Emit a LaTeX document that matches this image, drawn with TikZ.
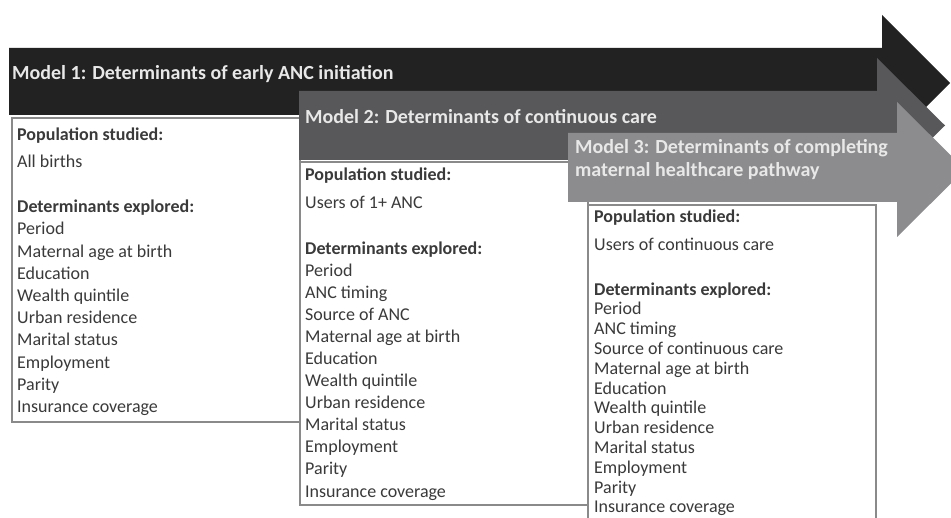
\documentclass[tikz,border=0pt]{standalone}
\usepackage{fontspec}
\setmainfont{Carlito}
\definecolor{barA}{HTML}{222222}
\definecolor{barB}{HTML}{58585A}
\definecolor{barC}{HTML}{8C8C8E}
\definecolor{barfg}{HTML}{E8E8E8}
\definecolor{boxgray}{HTML}{8A8A8A}
\definecolor{bodyfg}{HTML}{3A3A3A}
\tikzset{
  bartext/.style={anchor=base west, inner sep=0pt, text=barfg, font=\fontsize{20}{23}\selectfont\bfseries},
  boxframe/.style={draw=boxgray, line width=1.2pt, fill=white},
  itemtext/.style={anchor=base west, inner sep=0pt, text=bodyfg, font=\fontsize{18}{22}\selectfont},
  headtext/.style={itemtext, font=\fontsize{18}{22}\selectfont\bfseries},
}
\begin{document}
\begin{tikzpicture}[x=1pt,y=-1pt]
\useasboundingbox (0,0) rectangle (951,518);
\clip (0,0) rectangle (951,518);
\fill[white] (0,0) rectangle (951,518);

% Model 1 arrow
\fill[barA] (9,48) -- (882,48) -- (882,15) -- (950,83) -- (882,151) -- (882,115) -- (9,115) -- cycle;
\node[bartext] (m1) at (12,80) {Model 1: Determinants of early ANC initiation};

% Box 1
\path[boxframe] (12,118) rectangle (300,422);
\node[headtext] (b1p) at (17,141) {Population studied:};
\node[itemtext] (b1u) at (17,168) {All births};
\node[headtext] (b1d) at (17,213) {Determinants explored:};
\foreach \t [count=\i] in {Period, Maternal age at birth, Education, Wealth quintile, Urban residence, Marital status, Employment, Parity, Insurance coverage}
  \node[itemtext] (b1i\i) at ({17},{235+(\i-1)*22.2}) {\t};

% Model 2 arrow
\fill[barB] (299,91) -- (877,91) -- (877,58) -- (945,125.5) -- (877,193) -- (877,160) -- (299,160) -- cycle;
\node[bartext] (m2) at (305,124) {Model 2: Determinants of continuous care};

% Box 2
\path[boxframe] (300,162) rectangle (588,505);
\node[headtext] (b2p) at (305,181) {Population studied:};
\node[itemtext] (b2u) at (305,209) {Users of 1+ ANC};
\node[headtext] (b2d) at (305,255) {Determinants explored:};
\foreach \t [count=\i] in {Period, ANC timing, Source of ANC, Maternal age at birth, Education, Wealth quintile, Urban residence, Marital status, Employment, Parity, Insurance coverage}
  \node[itemtext] (b2i\i) at ({305},{277+(\i-1)*22}) {\t};

% Model 3 arrow
\fill[barC] (568,133) -- (897,133) -- (897,102) -- (965,169.5) -- (897,237) -- (897,202) -- (568,202) -- cycle;
\node[bartext] (m3a) at (575,154) {Model 3: Determinants of completing};
\node[bartext] (m3b) at (575,177) {maternal healthcare pathway};

% Box 3
\path[boxframe] (588,205) rectangle (876,530);
\node[headtext] (b3p) at (594,223) {Population studied:};
\node[itemtext] (b3u) at (594,251) {Users of continuous care};
\node[headtext] (b3d) at (594,296) {Determinants explored:};
\foreach \t [count=\i] in {Period, ANC timing, Source of continuous care, Maternal age at birth, Education, Wealth quintile, Urban residence, Marital status, Employment, Parity, Insurance coverage}
  \node[itemtext] (b3i\i) at ({594},{315+(\i-1)*19.8}) {\t};
\end{tikzpicture}
\end{document}
